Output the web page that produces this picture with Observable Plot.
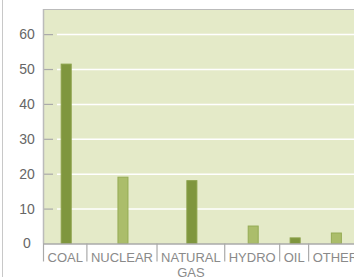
<!DOCTYPE html>
<html><head><meta charset="utf-8">
<script src="https://cdn.jsdelivr.net/npm/d3@7"></script>
<script src="https://cdn.jsdelivr.net/npm/@observablehq/plot@0.6"></script>
<style>
html,body{margin:0;padding:0;background:#fff;overflow:hidden}
#wrap{position:relative;width:354px;height:277px;overflow:hidden}
#edge{position:absolute;left:2px;top:0;width:1px;height:277px;background:#c8c8c8}
#chart{position:absolute;left:0;top:0;width:400px}
#chart svg{max-width:none !important}
</style></head>
<body>
<div id="wrap"><div id="edge"></div><div id="chart"></div></div>
<script>
const categories = ["COAL", "NUCLEAR", "NATURAL\nGAS", "HYDRO", "OIL", "OTHER"];
const values = [51.4, 19, 18, 5, 1.6, 3];
const shades = ["dark", "light", "dark", "light", "dark", "light"];
const yTicks = [0, 10, 20, 30, 40, 50, 60];
const yMax = 67.2;

const labelSize = 13;
const ctx = document.createElement("canvas").getContext("2d");
ctx.font = labelSize + "px 'Liberation Sans', Arial, sans-serif";
const pad = 8, barW = 10, left = 43;
let acc = 0;
const data = categories.map((c, i) => {
  const w = Math.max(...c.split("\n").map(s => ctx.measureText(s).width)) + pad;
  const d = {cat: c, value: values[i], shade: shades[i], start: acc, end: acc + w, center: acc + w / 2};
  acc += w;
  return d;
});
const total = acc;
const bounds = data.map(d => d.start).concat([total]);
const fills = {dark: "#7f963e", light: "#abbd6b"};
const strokes = {dark: "#8aa049", light: "#95ab54"};

const chart = Plot.plot({
  width: left + total, height: 277,
  marginLeft: left, marginRight: 0, marginTop: 9, marginBottom: 33.5,
  style: {fontFamily: "'Liberation Sans', Arial, sans-serif", background: "transparent", maxWidth: "none"},
  x: {type: "linear", domain: [0, total], label: null},
  y: {domain: [0, yMax], label: null},
  marks: [
    Plot.frame({fill: "#e4eac8", stroke: null}),
    Plot.ruleY(yTicks.filter(t => t > 0), {stroke: "#fff", strokeWidth: 1.5, insetLeft: 14}),
    Plot.ruleY(yTicks.filter(t => t > 0), {stroke: "#aaa", strokeWidth: 1.2, insetRight: total - 10}),
    Plot.ruleY([yMax], {stroke: "#bbb", strokeWidth: 1.2}),
    Plot.ruleX([0], {stroke: "#bbb", strokeWidth: 1.5}),
    Plot.rect(data, {x1: d => d.center - barW / 2 + 1.5, x2: d => d.center + barW / 2 + 1.5, y1: 0, y2: "value",
      fill: d => fills[d.shade], stroke: d => strokes[d.shade], strokeWidth: 1}),
    Plot.ruleY([0], {stroke: "#aaa", strokeWidth: 1.5}),
    Plot.axisX(bounds, {tickSize: 18, tickFormat: () => "", stroke: "#aaa", strokeWidth: 1.2, label: null}),
    Plot.axisY(yTicks, {tickSize: 0, tickPadding: 16.5, textAnchor: "middle", fontSize: 14, color: "#666", label: null}),
    Plot.text(data, {x: "center", frameAnchor: "bottom", text: "cat", lineAnchor: "top", dy: 7.5,
      lineHeight: 1.15, fontSize: labelSize, fill: "#8a8a8a"})
  ]
});
document.getElementById("chart").appendChild(chart);
</script>
</body></html>
